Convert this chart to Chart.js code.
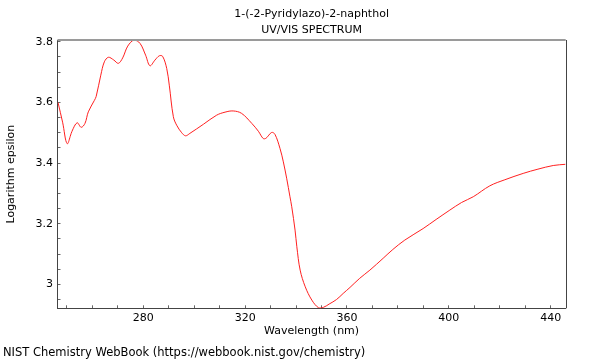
<!DOCTYPE html>
<html>
<head>
<meta charset="utf-8">
<script src="https://cdn.jsdelivr.net/npm/chart.js@4"></script>
<style>
  html, body { margin: 0; padding: 0; background: #fff; }
  #chart { display: block; }
</style>
</head>
<body>
<canvas id="chart" width="600" height="360"></canvas>
<script>
// values
const wavelengths = [
  246.5, 248.3, 250.1, 252.0, 254.0, 255.6, 257.1, 258.4, 260.8, 261.5,
  263.3, 264.7, 266.3, 268.4, 270.2, 271.9, 273.9, 276.4, 278.7, 280.9,
  282.6, 284.6, 286.3, 287.6, 289.2, 290.2, 291.8, 293.1, 295.1, 296.6,
  298.3, 303.6, 308.8, 312.1, 315.3, 318.6, 322.6, 325.2, 327.1, 328.2,
  330.4, 331.7, 333.7, 335.0, 336.3, 337.6, 338.3, 339.6, 340.3, 341.6,
  343.6, 346.2, 348.8, 350.7, 353.0, 355.9, 358.5, 361.2, 365.0, 369.0,
  374.2, 378.0, 382.7, 389.9, 395.0, 400.4, 405.0, 409.6, 416.1, 422.0,
  429.2, 435.0, 441.0, 445.8
];
const logEpsilon = [
  3.600, 3.535, 3.464, 3.505, 3.533, 3.518, 3.531, 3.569, 3.607, 3.620,
  3.690, 3.734, 3.749, 3.740, 3.729, 3.747, 3.786, 3.806, 3.795, 3.756,
  3.721, 3.740, 3.754, 3.752, 3.712, 3.657, 3.553, 3.525, 3.500, 3.490,
  3.498, 3.528, 3.558, 3.568, 3.572, 3.564, 3.531, 3.505, 3.481, 3.482,
  3.501, 3.495, 3.448, 3.404, 3.350, 3.289, 3.256, 3.179, 3.124, 3.047,
  2.992, 2.948, 2.923, 2.924, 2.935, 2.950, 2.970, 2.990, 3.020, 3.047,
  3.086, 3.115, 3.146, 3.184, 3.214, 3.245, 3.270, 3.289, 3.325, 3.345,
  3.366, 3.380, 3.392, 3.396
];
const xRange = [246.3, 445.9];
const yRange = [2.921, 3.806];
const xMajor = [280, 320, 360, 400, 440];
const yMajor = [3, 3.2, 3.4, 3.6, 3.8];

const titleLines = ["1-(-2-Pyridylazo)-2-naphthol", "UV/VIS SPECTRUM"];
const footer = "NIST Chemistry WebBook (https://webbook.nist.gov/chemistry)";
const FONT = "DejaVu Sans";

const points = wavelengths.map((w, i) => ({ x: w, y: logEpsilon[i] }));

// titles, footer and the top/right frame lines
const textPlugin = {
  id: "texts",
  afterDraw(chart) {
    const ctx = chart.ctx;
    const a = chart.chartArea;
    ctx.save();
    ctx.strokeStyle = "#9a9a9a";
    ctx.lineWidth = 2;
    ctx.beginPath();
    ctx.moveTo(a.left, a.top);
    ctx.lineTo(a.right, a.top);
    ctx.stroke();
    ctx.strokeStyle = "#444";
    ctx.lineWidth = 1;
    ctx.beginPath();
    ctx.moveTo(Math.round(a.right) + 0.5, a.top);
    ctx.lineTo(Math.round(a.right) + 0.5, a.bottom);
    ctx.stroke();

    ctx.fillStyle = "#000";
    ctx.font = "11px '" + FONT + "'";
    ctx.textAlign = "center";
    ctx.textBaseline = "middle";
    const cx = (a.left + a.right) / 2;
    ctx.fillText(titleLines[0], cx, 14);
    ctx.fillText(titleLines[1], cx, 30);
    ctx.font = "11.5px '" + FONT + "'";
    ctx.textAlign = "left";
    ctx.fillText(footer, 3, 353);
    ctx.restore();
  }
};

const isMajor = (v, list) => list.some((m) => Math.abs(m - v) < 1e-6);

new Chart(document.getElementById("chart"), {
  type: "line",
  data: {
    datasets: [
      {
        data: points,
        borderColor: "#ff2020",
        borderWidth: 1,
        pointRadius: 0,
        tension: 0.35,
        fill: false
      }
    ]
  },
  options: {
    responsive: false,
    animation: false,
    layout: { padding: { top: 40, right: 34.3, bottom: 0, left: 0 } },
    plugins: {
      legend: { display: false },
      tooltip: { enabled: false }
    },
    scales: {
      x: {
        type: "linear",
        min: xRange[0],
        max: xRange[1],
        afterFit(scale) { scale.height = 51.7; },
        border: { color: "#444", width: 1 },
        grid: { drawOnChartArea: false, tickLength: -3, color: "#666" },
        ticks: {
          stepSize: 10,
          includeBounds: false,
          autoSkip: false,
          maxRotation: 0,
          padding: 6,
          color: "#000",
          font: { family: FONT, size: 11 },
          callback: (v) => (isMajor(v, xMajor) ? String(v) : "")
        },
        title: {
          display: true,
          text: "Wavelength (nm)",
          color: "#000",
          font: { family: FONT, size: 11 },
          padding: { top: 0, bottom: 22 }
        }
      },
      y: {
        type: "linear",
        min: yRange[0],
        max: yRange[1],
        afterFit(scale) { scale.width = 57.5; },
        border: { color: "#444", width: 1 },
        grid: { drawOnChartArea: false, tickLength: -3, color: "#666" },
        ticks: {
          stepSize: 0.05,
          includeBounds: false,
          autoSkip: false,
          padding: 7.5,
          color: "#000",
          font: { family: FONT, size: 11 },
          callback: (v) => (isMajor(v, yMajor) ? String(Math.round(v * 10) / 10) : "")
        },
        title: {
          display: true,
          text: "Logarithm epsilon",
          color: "#000",
          font: { family: FONT, size: 11 },
          padding: { top: 4.5, bottom: 0 }
        }
      }
    }
  },
  plugins: [textPlugin]
});
</script>
</body>
</html>
